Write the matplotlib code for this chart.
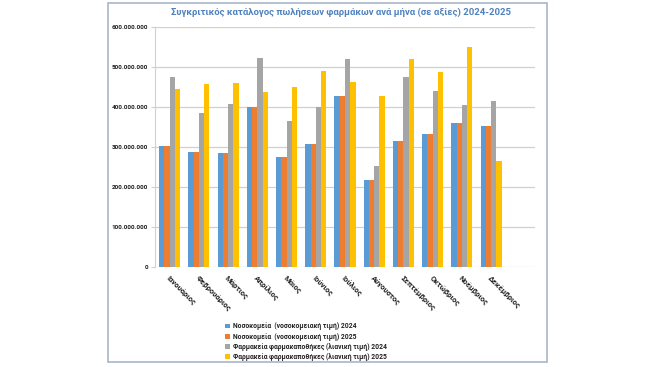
import numpy as np
import matplotlib.pyplot as plt
from matplotlib.patches import Rectangle
from matplotlib.ticker import FuncFormatter

months = ['Ιανουάριος', 'Φεβρουάριος', 'Μάρτιος', 'Απρίλιος', 'Μάιος', 'Ιούνιος',
          'Ιούλιος', 'Αύγουστος', 'Σεπτέμβριος', 'Οκτώβριος', 'Νοέμβριος', 'Δεκέμβριος']

hosp_2024 = [303e6, 288e6, 284e6, 399e6, 275e6, 307e6, 427e6, 217e6, 314e6, 332e6, 360e6, 352e6]
hosp_2025 = [303e6, 288e6, 284e6, 399e6, 275e6, 307e6, 427e6, 217e6, 314e6, 332e6, 360e6, 352e6]
pharm_2024 = [474e6, 384e6, 408e6, 522e6, 365e6, 399e6, 520e6, 253e6, 476e6, 441e6, 406e6, 414e6]
pharm_2025 = [445e6, 458e6, 459e6, 437e6, 451e6, 490e6, 462e6, 427e6, 519e6, 487e6, 551e6, 265e6]

labels = ['Νοσοκομεία  (νοσοκομειακή τιμή) 2024',
          'Νοσοκομεία  (νοσοκομειακή τιμή) 2025',
          'Φαρμακεία φαρμακαποθήκες (λιανική τιμή) 2024',
          'Φαρμακεία φαρμακαποθήκες (λιανική τιμή) 2025']
colors = ['#5B9BD5', '#ED7D31', '#A5A5A5', '#FFC000']

plt.rcParams['font.family'] = ['Roboto', 'DejaVu Sans']

fig = plt.figure(figsize=(6.52, 3.67), dpi=100)
# outer chart frame
fig.patches.append(Rectangle((108 / 652, 1 - 362 / 367), 439 / 652, 359 / 367,
                             transform=fig.transFigure, fill=False,
                             edgecolor='#A8B6C8', linewidth=1.2))
ax = fig.add_axes([155 / 652, 1 - 267 / 367, 380 / 652, 240 / 367])

x = np.arange(len(months))
w = 0.18
series = [hosp_2024, hosp_2025, pharm_2024, pharm_2025]
for i, (vals, lab, c) in enumerate(zip(series, labels, colors)):
    ax.bar(x + (i - 1.5) * w, vals, w, color=c, label=lab)

ax.set_xlim(-0.5, 12.5)
ax.set_ylim(0, 600e6)
ax.set_yticks(np.arange(0, 600e6 + 1, 100e6))
ax.yaxis.set_major_formatter(FuncFormatter(lambda v, p: f'{int(v):,}'.replace(',', '.')))
ax.grid(axis='y', color='#D0D0D0', linewidth=0.9)
ax.set_axisbelow(True)
for s in ['top', 'right', 'bottom']:
    ax.spines[s].set_visible(False)
ax.spines['left'].set_color('#D0D0D0')
ax.tick_params(axis='y', labelsize=4.6, length=3, color='#D0D0D0', pad=2, labelcolor='#222222')
ax.tick_params(axis='x', length=0, pad=6, labelcolor='#222222')
ax.set_xticks(x)
ax.set_xticklabels(months, rotation=-45, ha='left', rotation_mode='anchor',
                   fontsize=5.5, fontweight='bold')
for t in ax.get_yticklabels():
    t.set_fontweight('bold')

fig.text(341 / 652, 1 - 12 / 367, 'Συγκριτικός κατάλογος πωλήσεων φαρμάκων ανά μήνα (σε αξίες) 2024-2025',
         ha='center', va='center', color='#4F81BD', fontsize=6.8, fontweight='bold')

leg = fig.legend(loc='upper left', bbox_to_anchor=(222 / 652, 1 - 319 / 367), frameon=False,
                 fontsize=4.9, handlelength=0.7, handleheight=0.7, handletextpad=0.4,
                 labelspacing=0.32, borderpad=0)
for t in leg.get_texts():
    t.set_fontweight('bold')
    t.set_color('#222222')

fig.savefig('out.png', dpi=100)
